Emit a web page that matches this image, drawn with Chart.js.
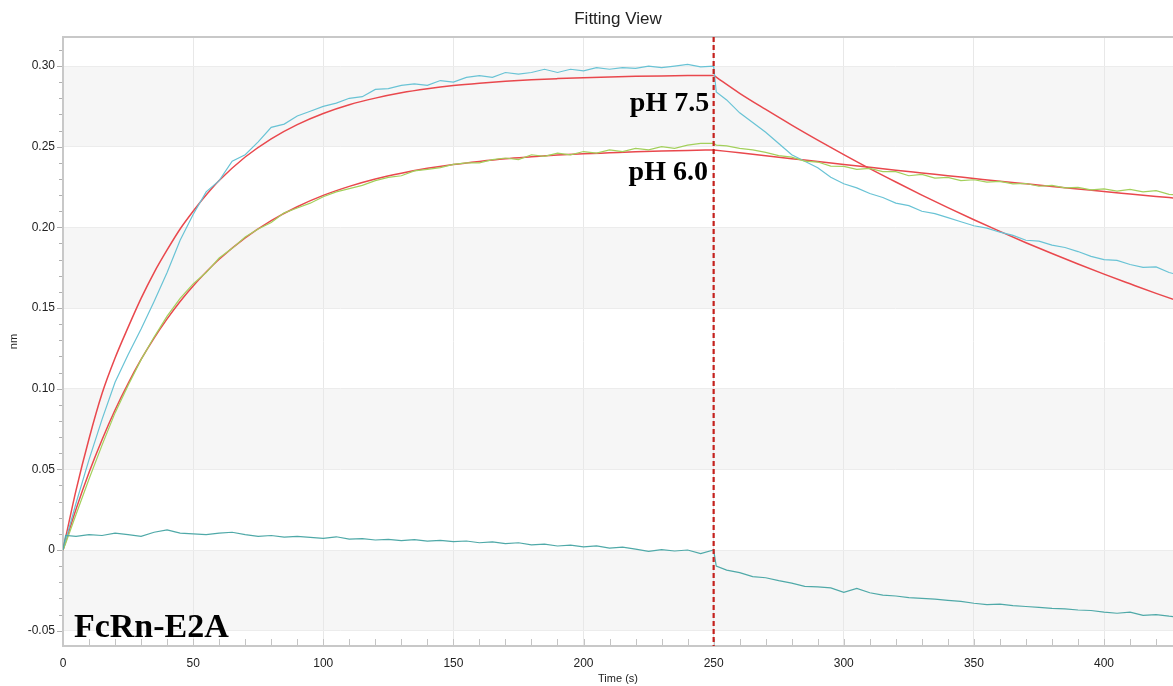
<!DOCTYPE html>
<html>
<head>
<meta charset="utf-8">
<script src="https://cdn.jsdelivr.net/npm/chart.js@4.4.1/dist/chart.umd.min.js"></script>
<style>
html,body{margin:0;padding:0;background:#fff;}
#wrap{width:1173px;height:686px;position:relative;}
</style>
</head>
<body>
<div id="wrap"><canvas id="c"></canvas></div>
<script>
// ---- Data ----
const timeData = [0,1,5,10,15,20,25,30,35,40,45,50,55,60,65,70,75,80,85,90,95,100,
  105,110,115,120,125,130,135,140,145,150,155,160,165,170,175,180,185,190,195,200,
  205,210,215,220,225,230,235,240,245,250,251,255,260,265,270,275,280,285,290,295,300,
  305,310,315,320,325,330,335,340,345,350,355,360,365,370,375,380,385,390,395,400,
  405,410,415,420,425,430];

const ph75Data = [0,0.006,0.029,0.056,0.081,0.104,0.121,0.137,0.154,0.172,0.192,0.208,0.222,0.229,0.241,0.245,0.253,0.262,0.264,0.269,0.272,0.275,
  0.277,0.280,0.281,0.2855,0.286,0.288,0.289,0.288,0.291,0.290,0.293,0.294,0.293,0.296,0.295,0.296,0.298,0.296,0.298,0.297,
  0.299,0.298,0.299,0.2985,0.300,0.299,0.300,0.301,0.2995,0.300,0.284,0.279,0.271,0.265,0.259,0.252,0.245,0.241,0.237,0.231,0.227,
  0.2245,0.221,0.2185,0.215,0.2135,0.210,0.2085,0.206,0.2035,0.201,0.1995,0.197,0.195,0.192,0.1915,0.189,0.1875,0.185,0.182,0.180,
  0.1795,0.177,0.1752,0.1755,0.172,0.170];

const ph60Data = [0,0.004,0.022,0.044,0.065,0.085,0.102,0.118,0.132,0.145,0.156,0.165,0.172,0.181,0.187,0.194,0.199,0.203,0.209,0.212,0.215,0.219,
  0.222,0.224,0.226,0.229,0.231,0.232,0.235,0.236,0.237,0.239,0.240,0.240,0.242,0.243,0.242,0.245,0.244,0.246,0.245,0.247,
  0.246,0.248,0.247,0.249,0.248,0.250,0.249,0.251,0.252,0.252,0.251,0.2505,0.249,0.248,0.2465,0.2445,0.2435,0.241,0.2405,0.238,0.2378,
  0.236,0.2365,0.2345,0.2345,0.232,0.2328,0.2305,0.231,0.229,0.2295,0.228,0.2285,0.227,0.2272,0.2255,0.226,0.2245,0.2248,0.2232,0.2238,
  0.2225,0.2235,0.222,0.2228,0.2205,0.2198];

const refData = [0,0.009,0.0085,0.0095,0.009,0.0105,0.0095,0.0085,0.011,0.0125,0.0105,0.010,0.0095,0.0105,0.011,0.0095,0.0085,0.009,0.008,0.0085,0.0078,0.0072,
  0.0082,0.0068,0.0070,0.0062,0.0066,0.0058,0.0064,0.0055,0.0060,0.0052,0.0056,0.0045,0.0050,0.0040,0.0045,0.0032,0.0036,0.0025,0.0030,0.0020,
  0.0026,0.0012,0.0018,0.0005,-0.0008,0.0002,-0.0006,0.0000,-0.0022,0.0000,-0.0100,-0.0125,-0.0140,-0.0165,-0.0172,-0.0190,-0.0205,-0.0225,-0.0228,-0.0235,-0.0262,
  -0.0238,-0.0265,-0.0280,-0.0285,-0.0295,-0.0300,-0.0305,-0.0312,-0.0318,-0.0330,-0.0338,-0.0335,-0.0345,-0.0350,-0.0355,-0.0362,-0.0365,-0.0372,-0.0375,-0.0385,
  -0.0392,-0.0385,-0.0405,-0.0400,-0.0410,-0.0418];

const fitAssocTime = [0,5,10,15,20,25,30,35,40,45,50,55,60,70,80,90,100,110,120,130,140,150,160,170,180,190,200,210,220,230,240,250];
const fitDissocTime = [250,260,270,280,290,300,310,320,330,340,350,360,370,380,390,400,410,420,430];

const fit75Assoc = [0,0.037,0.069,0.097,0.119,0.138,0.156,0.172,0.186,0.199,0.210,0.220,0.229,
  0.2436,0.2549,0.2637,0.2706,0.2760,0.2801,0.2834,0.2859,0.2879,0.2894,0.2906,0.2915,0.2922,0.2928,0.2932,0.2936,0.2939,0.2941,0.2942];
const fit75Dissoc = [0.2942,0.2831,0.2731,0.2634,0.2541,0.2451,0.2364,0.2281,0.2200,0.2122,0.2047,0.1975,0.1905,0.1838,0.1773,0.1710,0.1650,0.1591,0.1535];

const fit60Assoc = [0,0.0253,0.0481,0.0684,0.0868,0.1032,0.1181,0.1314,0.1433,0.1541,0.1637,0.1723,0.1802,
  0.1935,0.2042,0.2128,0.2198,0.2254,0.2300,0.2336,0.2366,0.2390,0.2409,0.2425,0.2437,0.2448,0.2456,0.2462,0.2468,0.2473,0.2477,0.2480];
const fit60Dissoc = [0.2480,0.2462,0.2444,0.2426,0.2408,0.2390,0.2372,0.2354,0.2337,0.2320,0.2303,0.2286,0.2270,0.2254,0.2238,0.2222,0.2207,0.2192,0.2177];

const switchTime = 250;
const labelTexts = ['pH 7.5', 'pH 6.0', 'FcRn-E2A'];
const chartTitle = 'Fitting View';
const xTitle = 'Time (s)';
const yTitle = 'nm';

// ---- helpers ----
const pts = (xs, ys) => xs.map((x, i) => ({x: x, y: ys[i]}));

const COL_CYAN = '#69c3d5';
const COL_GREEN = '#a3d05c';
const COL_RED = '#e9484d';
const COL_REF = '#4fa9a8';

const bgPlugin = {
  id: 'bgBands',
  beforeDraw(chart) {
    const {ctx, chartArea: a, scales: {y}} = chart;
    ctx.save();
    ctx.fillStyle = '#f6f6f6';
    const bands = [[0.25, 0.30], [0.15, 0.20], [0.05, 0.10], [-0.05, 0]];
    bands.forEach(b => {
      const y1 = y.getPixelForValue(b[1]), y0 = y.getPixelForValue(b[0]);
      ctx.fillRect(a.left, y1, a.right - a.left, y0 - y1);
    });
    ctx.restore();
  },
  beforeDatasetsDraw(chart) {
    const {ctx, chartArea: a, scales: {x, y}} = chart;
    ctx.save();
    ctx.strokeStyle = '#c4c4c4';
    ctx.lineWidth = 1;
    for (let t = 0; t <= x.max; t += 10) {
      const px = Math.round(x.getPixelForValue(t)) + 0.5;
      ctx.beginPath();
      ctx.moveTo(px, a.bottom);
      ctx.lineTo(px, a.bottom - 7);
      ctx.stroke();
    }
    ctx.strokeStyle = '#b0b0b0';
    for (let k = -5; k <= 31; k++) {
      const v = k / 100;
      if (v < y.min || v > y.max) continue;
      const py = Math.round(y.getPixelForValue(v)) + 0.5;
      ctx.beginPath();
      ctx.moveTo(a.left - (k % 5 === 0 ? 6 : 4), py);
      ctx.lineTo(a.left, py);
      ctx.stroke();
    }
    ctx.strokeStyle = '#c8c8c8';
    ctx.lineWidth = 2;
    ctx.beginPath();
    ctx.moveTo(a.right + 2, a.top);
    ctx.lineTo(a.left, a.top);
    ctx.lineTo(a.left, a.bottom);
    ctx.lineTo(a.right + 2, a.bottom);
    ctx.stroke();
    ctx.restore();
  },
  afterDatasetsDraw(chart) {
    const {ctx, chartArea: a, scales: {x, y}} = chart;
    ctx.save();
    const sx = x.getPixelForValue(switchTime);
    ctx.strokeStyle = '#c4211d';
    ctx.lineWidth = 2.2;
    ctx.setLineDash([5, 3]);
    ctx.beginPath();
    ctx.moveTo(sx, a.top);
    ctx.lineTo(sx, a.bottom);
    ctx.stroke();
    ctx.setLineDash([]);
    ctx.fillStyle = '#000';
    ctx.textBaseline = 'alphabetic';
    ctx.font = 'bold 28px "Liberation Serif", "Times New Roman", serif';
    ctx.textAlign = 'right';
    ctx.fillText(labelTexts[0], x.getPixelForValue(248.3), y.getPixelForValue(0.2723));
    ctx.fillText(labelTexts[1], x.getPixelForValue(247.8), y.getPixelForValue(0.2294));
    ctx.font = 'bold 34px "Liberation Serif", "Times New Roman", serif';
    ctx.textAlign = 'left';
    ctx.fillText(labelTexts[2], x.getPixelForValue(4.2), y.getPixelForValue(-0.0537));
    ctx.restore();
  }
};

const FONT = '"Liberation Sans", Arial, sans-serif';

new Chart(document.getElementById('c'), {
  type: 'line',
  data: {
    datasets: [
      {data: pts(timeData, refData), borderColor: COL_REF, borderWidth: 1.2, pointRadius: 0, tension: 0},
      {data: pts(timeData, ph60Data), borderColor: COL_GREEN, borderWidth: 1.2, pointRadius: 0, tension: 0},
      {data: pts(timeData, ph75Data), borderColor: COL_CYAN, borderWidth: 1.2, pointRadius: 0, tension: 0},
      {data: pts(fitAssocTime, fit60Assoc), borderColor: COL_RED, borderWidth: 1.5, pointRadius: 0, cubicInterpolationMode: 'monotone'},
      {data: pts(fitDissocTime, fit60Dissoc), borderColor: COL_RED, borderWidth: 1.5, pointRadius: 0, cubicInterpolationMode: 'monotone'},
      {data: pts(fitAssocTime, fit75Assoc), borderColor: COL_RED, borderWidth: 1.5, pointRadius: 0, cubicInterpolationMode: 'monotone'},
      {data: pts(fitDissocTime, fit75Dissoc), borderColor: COL_RED, borderWidth: 1.5, pointRadius: 0, cubicInterpolationMode: 'monotone'}
    ]
  },
  options: {
    responsive: true,
    maintainAspectRatio: false,
    animation: false,
    layout: {padding: {left: 0, right: 0, top: 0, bottom: 0}},
    plugins: {
      legend: {display: false},
      tooltip: {enabled: false},
      title: {
        display: true,
        text: chartTitle,
        fullSize: false,
        color: '#222',
        font: {family: FONT, size: 17, weight: 'normal'},
        padding: {top: 9, bottom: 7.6}
      }
    },
    scales: {
      x: {
        type: 'linear',
        min: 0,
        max: 426.5,
        border: {display: false},
        grid: {color: '#e8e8e8', drawTicks: false},
        ticks: {stepSize: 50, includeBounds: false, color: '#222', padding: 10,
          font: {family: FONT, size: 12}, maxRotation: 0},
        title: {display: true, text: xTitle, color: '#222', font: {family: FONT, size: 11}, padding: {top: 2, bottom: 0}},
        afterFit(s) { s.height = 40; }
      },
      y: {
        min: -0.0595,
        max: 0.318,
        border: {display: false},
        grid: {color: '#ececec', drawTicks: false},
        ticks: {stepSize: 0.05, includeBounds: false, color: '#222', padding: 8,
          font: {family: FONT, size: 12},
          callback: v => Math.abs(v) < 1e-9 ? '0' : v.toFixed(2)},
        title: {display: true, text: yTitle, color: '#222', font: {family: FONT, size: 11}, padding: {top: 7, bottom: 0}},
        afterFit(s) { s.width = 63; }
      }
    }
  },
  plugins: [bgPlugin]
});
</script>
</body>
</html>
